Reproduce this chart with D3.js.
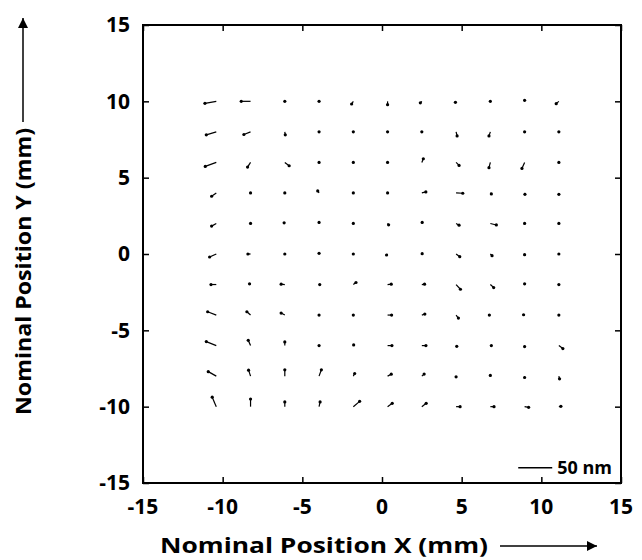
<!DOCTYPE html>
<html lang="en">
<head>
    <meta charset="UTF-8">
    <title>Displacement map</title>
    <style>
        body { margin: 0; background: #fff; }
        .tick_lbl { font-family: "Open Sans", sans-serif; font-weight: 700; font-size: 21px; fill: #000; }
        .axis_lbl { font-family: "Open Sans", sans-serif; font-weight: 700; font-size: 22px; fill: #000; }
        .vec { stroke: #000; stroke-width: 1.2px; }
    </style>
</head>
<body>
<div id="chart_div"></div>
<script src="https://d3js.org/d3.v7.min.js"></script>
<script>
    // grid positions (mm)
    var colX = [-10.4, -8.25, -6.1, -3.95, -1.8, 0.35, 2.5, 4.65, 6.8, 8.95, 11.1];
    var rowY = [10, 8, 6, 4, 2, 0, -2, -4, -6, -8, -10];
    var tickVals = [-15, -10, -5, 0, 5, 10, 15];

    // displacement x component (nm), one list per row, top row first
    var dispU = [
        [-16.7, -13.7, 0, 0, -2.5, 0, -2.2, -1, 0, 0, -3.9],
        [-14.7, -9.8, 0.7, 0, 0, 0, 0, 1.5, -2, 0, 0],
        [-16.2, -4.4, 6.4, 0, 0, 0, 2.2, 4.4, -2, -3.9, 0],
        [-6.9, 0, 0, -2, 0, 0, 5.9, 9.8, 1.5, 0.5, 0],
        [-6.9, 0, -1, 0, 0, 1.5, 0.5, 4.4, 8.8, 0, 0],
        [-9.8, -3.9, 0, 0, 0, -1.5, 0.5, 5.4, 2.5, 0, 0],
        [-7.8, -1.5, -5.4, 1, 3.9, 5.4, 4, 6.4, 4.9, 0, 0],
        [-12.7, -5.4, -5.4, 0, 0, 5.9, 4.4, 3.4, -1.5, -1.5, 0],
        [-14.7, -3.4, 0, 0, 0.5, 6.4, 6, 1, 1.5, 0, 5.9],
        [-11.8, -2.9, 0, 3.4, 2, 5.4, 3.4, 0, 0, 0, 1],
        [-6, 0, 0, 1.5, 9.3, 6.9, 6.4, 5.9, 5.4, 5.9, 3]
    ];
    // displacement y component (nm, up is positive)
    var dispV = [
        [-3, 0, 0, 0, -3.9, -4.9, -2.2, -1.5, 0, 1.5, -3.4],
        [-4.4, -3.9, -4.4, 0, 0, 0, 0, -6, -5.9, 0, 0],
        [-5.9, -6.9, -4.9, 0, 0, 0, 5.4, -4.4, -7.8, -8.8, 0],
        [-4.9, 0, 0, 3, 0, 0, 1.5, -0.5, -1.5, -2, -2],
        [-3.9, 0, 1, 1.5, 0, -2, 1.5, -2.5, -2.2, 0, 0],
        [-4.4, 0, 0, 1, 0, -1.5, 0.5, -3.9, -2.5, -1, 0],
        [0, 1, 0.5, 0, 3, 0.5, 0.5, -6.9, -4.4, 1, 0],
        [4.9, 4.9, 2.9, 0, 0, 0, 1.5, -4.4, 0, 0.5, 0],
        [5.9, 7.8, 5.4, 0, 1, 0, 0, -1, 0, -1.5, -4.4],
        [6.6, 8.8, 9.3, 9.3, 3.9, 2.9, 3, -1, 1, -2, -3.9],
        [14, 11.3, 6.9, 6.9, 7.8, 4.9, 4.9, 0, 0, -1, 0.5]
    ];
    var scaleBarNm = 50;

    var width = 642, height = 560;

    // plot area
    var x = d3.scaleLinear().domain([-15, 15]).range([143, 621]);
    var y = d3.scaleLinear().domain([-15, 15]).range([483, 25]);
    // nm -> pixels for the vectors
    var nm = d3.scaleLinear().domain([0, 50]).range([0, 34]);

    var svg = d3.select("#chart_div").append("svg")
        .attr("width", width)
        .attr("height", height);

    // flatten grid into vector records
    var vecs = [];
    rowY.forEach(function(yy, i) {
        colX.forEach(function(xx, j) {
            vecs.push({x: xx, y: yy, u: dispU[i][j], v: dispV[i][j]});
        });
    });

    // vectors: tail on grid point, dot at tip
    var g = svg.append("g");
    g.selectAll("line.vec").data(vecs).enter().append("line")
        .attr("class", "vec")
        .attr("x1", function(d) { return x(d.x); })
        .attr("y1", function(d) { return y(d.y); })
        .attr("x2", function(d) { return x(d.x) + nm(d.u); })
        .attr("y2", function(d) { return y(d.y) - nm(d.v); });
    g.selectAll("circle").data(vecs).enter().append("circle")
        .attr("cx", function(d) { return x(d.x) + nm(d.u); })
        .attr("cy", function(d) { return y(d.y) - nm(d.v); })
        .attr("r", 1.6)
        .attr("fill", "#000");

    // axes, ticks pointing inward on all four sides
    var tk = 6;
    function styleAxis(sel) {
        sel.select(".domain").remove();
        sel.selectAll(".tick line").attr("stroke", "#000").attr("stroke-width", 1.5);
    }
    svg.append("g").attr("transform", "translate(0," + y(-15) + ")")
        .call(d3.axisBottom(x).tickValues(tickVals).tickSizeInner(-tk).tickFormat(""))
        .call(styleAxis);
    svg.append("g").attr("transform", "translate(0," + y(15) + ")")
        .call(d3.axisTop(x).tickValues(tickVals).tickSizeInner(-tk).tickFormat(""))
        .call(styleAxis);
    svg.append("g").attr("transform", "translate(" + x(-15) + ",0)")
        .call(d3.axisLeft(y).tickValues(tickVals).tickSizeInner(-tk).tickFormat(""))
        .call(styleAxis);
    svg.append("g").attr("transform", "translate(" + x(15) + ",0)")
        .call(d3.axisRight(y).tickValues(tickVals).tickSizeInner(-tk).tickFormat(""))
        .call(styleAxis);

    // frame
    svg.append("rect")
        .attr("x", x(-15)).attr("y", y(15))
        .attr("width", x(15) - x(-15)).attr("height", y(-15) - y(15))
        .attr("fill", "none").attr("stroke", "#000").attr("stroke-width", 2);

    // tick labels
    svg.selectAll("text.xl").data(tickVals).enter().append("text")
        .attr("class", "tick_lbl")
        .attr("x", function(d) { return x(d); })
        .attr("y", 514)
        .attr("text-anchor", "middle")
        .text(function(d) { return d; });
    svg.selectAll("text.yl").data(tickVals).enter().append("text")
        .attr("class", "tick_lbl")
        .attr("x", 130)
        .attr("y", function(d) { return y(d); })
        .attr("dy", "0.35em")
        .attr("text-anchor", "end")
        .text(function(d) { return d; });

    // scale bar
    var sbX = 8.55, sbY = -14;
    svg.append("line")
        .attr("x1", x(sbX)).attr("x2", x(sbX) + nm(scaleBarNm))
        .attr("y1", y(sbY)).attr("y2", y(sbY))
        .attr("stroke", "#000").attr("stroke-width", 1.5);
    svg.append("text")
        .attr("x", x(sbX) + nm(scaleBarNm) + 5)
        .attr("y", y(sbY))
        .attr("dy", "0.35em")
        .style("font-family", "Open Sans, sans-serif")
        .style("font-weight", 700)
        .style("font-size", "18px")
        .text(scaleBarNm + " nm");

    // arrow marker for axis titles
    svg.append("defs").append("marker")
        .attr("id", "ahead")
        .attr("viewBox", "0 0 10 10")
        .attr("refX", 10).attr("refY", 5)
        .attr("markerWidth", 14).attr("markerHeight", 10)
        .attr("markerUnits", "userSpaceOnUse")
        .attr("orient", "auto")
        .append("path").attr("d", "M0,0L10,5L0,10Z").attr("fill", "#000");

    // x title
    svg.append("text")
        .attr("class", "axis_lbl")
        .attr("x", 160)
        .attr("y", 553)
        .attr("textLength", 328)
        .attr("lengthAdjust", "spacingAndGlyphs")
        .text("Nominal Position X (mm)");
    svg.append("line")
        .attr("x1", 500).attr("y1", 546).attr("x2", 597).attr("y2", 546)
        .attr("stroke", "#000").attr("stroke-width", 1.5)
        .attr("marker-end", "url(#ahead)");

    // y title
    svg.append("text")
        .attr("class", "axis_lbl")
        .attr("transform", "translate(31,415) rotate(-90)")
        .attr("textLength", 287)
        .attr("lengthAdjust", "spacingAndGlyphs")
        .text("Nominal Position Y (mm)");
    svg.append("line")
        .attr("x1", 23).attr("y1", 122).attr("x2", 23).attr("y2", 18)
        .attr("stroke", "#000").attr("stroke-width", 1.5)
        .attr("marker-end", "url(#ahead)");
</script>
</body>
</html>
